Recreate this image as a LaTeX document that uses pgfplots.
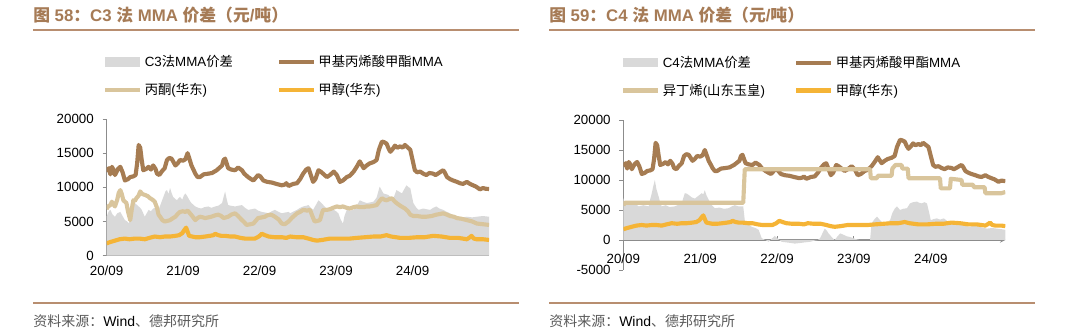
\documentclass[border=0pt]{standalone}
\usepackage{fontspec}
\setmainfont{Liberation Sans}
\newfontfamily\cjk{Noto Sans CJK SC}
\usepackage{pgfplots}
\pgfplotsset{compat=1.18}
\definecolor{mmacol}{RGB}{166,124,82}
\definecolor{acecol}{RGB}{217,197,156}
\definecolor{metcol}{RGB}{245,180,54}
\definecolor{spreadcol}{RGB}{217,217,217}
\definecolor{titlecol}{RGB}{166,123,86}
\definecolor{rulecol}{RGB}{184,142,112}
\definecolor{axiscol}{RGB}{140,140,140}
\definecolor{srccol}{RGB}{90,90,90}

\pgfplotsset{
  arealeg/.style={legend image code/.code={\fill[##1] (0pt,-3.5pt) rectangle (26pt,3.5pt);}},
  mychart/.style={
    scale only axis,
    axis x line=bottom, axis y line=left,
    axis line style={draw=axiscol, line width=0.8pt, -},
    tick align=inside, major tick length=3pt,
    tick style={draw=axiscol, line width=0.7pt},
    ytick style={xshift=-3pt},
    xtick={0,1,2,3,4}, xticklabels={20/09,21/09,22/09,23/09,24/09},
    scaled y ticks=false,
    /pgf/number format/1000 sep={},
    /pgf/number format/assume math mode=true,
    tick label style={font=\fontsize{10}{12}\selectfont, text=black},
    xticklabel style={yshift=-4pt},
    yticklabel style={xshift=-6pt},
    hide obscured x ticks=false, hide obscured y ticks=false,
    legend columns=2,
    legend cell align=left,
    legend style={draw=none, fill=none, font=\fontsize{10}{12}\selectfont, row sep=7pt, inner sep=0pt},
    legend image code/.code={\draw[##1] (0pt,0pt) -- (26pt,0pt);},
    line join=round,
  },
  ser/.style={line width=3.1pt},
}

\begin{document}
\begin{tikzpicture}[x=0.75pt,y=0.75pt]
\path[use as bounding box] (0,0) rectangle (1080,331);

% titles and rules
\node[anchor=west, inner sep=0, text=titlecol, font=\bfseries\fontsize{12.6}{14}\selectfont] at (33,316) {{\cjk 图} 58{\cjk ：}C3 {\cjk 法} MMA {\cjk 价差（元}/{\cjk 吨）}};
\node[anchor=west, inner sep=0, text=titlecol, font=\bfseries\fontsize{12.6}{14}\selectfont] at (549,316) {{\cjk 图} 59{\cjk ：}C4 {\cjk 法} MMA {\cjk 价差（元}/{\cjk 吨）}};
\draw[rulecol, line width=1.1pt] (33,301) -- (519,301);
\draw[rulecol, line width=1.1pt] (549,301) -- (1035,301);
\draw[rulecol, line width=1.1pt] (33,28) -- (519,28);
\draw[rulecol, line width=1.1pt] (549,28) -- (1035,28);
\node[anchor=west, inner sep=0, font=\fontsize{10.5}{12}\selectfont] at (33,10) {\textcolor{srccol}{\cjk 资料来源：}Wind\textcolor{srccol}{\cjk 、德邦研究所}};
\node[anchor=west, inner sep=0, font=\fontsize{10.5}{12}\selectfont] at (549,10) {\textcolor{srccol}{\cjk 资料来源：}Wind\textcolor{srccol}{\cjk 、德邦研究所}};

% ---------------- Left chart ----------------
\begin{axis}[mychart,
  at={(79.9pt,56.5pt)}, anchor=south west,
  width=286.9pt, height=102.5pt,
  xmin=0, xmax=5, ymin=0, ymax=20000,
  ytick={0,5000,10000,15000,20000},
  legend style={at={(-0.009,1.487)}, anchor=north west,
    /tikz/every even column/.append style={column sep=31pt}},
]
\addplot[fill=spreadcol, draw=none, arealeg] coordinates {
(0,0)(0,5700)(0.03,6500)(0.05,6700)(0.08,6000)(0.11,5700)(0.14,6200)(0.18,6400)(0.21,5800)(0.24,5200)(0.27,5000)(0.29,4700)(0.31,5800)(0.33,6700)(0.35,7300)(0.37,7700)(0.40,7400)(0.42,7200)(0.44,7000)(0.46,6700)(0.48,6200)(0.50,5700)(0.53,6300)(0.55,6700)(0.58,6500)(0.61,6900)(0.64,7000)(0.68,6700)(0.70,7300)(0.72,7900)(0.75,8800)(0.77,9400)(0.79,9600)(0.81,9000)(0.83,9900)(0.85,9200)(0.87,8600)(0.90,8300)(0.92,8100)(0.94,8400)(0.96,8600)(0.99,8200)(1.01,8800)(1.03,9100)(1.05,8800)(1.07,8400)(1.09,8000)(1.11,7700)(1.14,7400)(1.16,7200)(1.20,7000)(1.24,6900)(1.28,7100)(1.33,7200)(1.37,7000)(1.42,7200)(1.46,7300)(1.51,7700)(1.53,8600)(1.55,9400)(1.57,8300)(1.59,7400)(1.63,7300)(1.68,7200)(1.72,7300)(1.77,7400)(1.81,7000)(1.85,6700)(1.90,6800)(1.94,6900)(1.98,6600)(2.03,6400)(2.08,6300)(2.12,6200)(2.16,6500)(2.20,6700)(2.25,6400)(2.29,6200)(2.33,6300)(2.38,6400)(2.40,6200)(2.45,6500)(2.49,6700)(2.53,7000)(2.57,7200)(2.61,7300)(2.64,7400)(2.67,7000)(2.70,6700)(2.73,7300)(2.77,8100)(2.79,7900)(2.81,7700)(2.85,7200)(2.88,6900)(2.93,6800)(2.97,6700)(3.00,6500)(3.03,6200)(3.06,5300)(3.09,4700)(3.11,5800)(3.14,6700)(3.18,6600)(3.23,6700)(3.27,7300)(3.31,8100)(3.35,7900)(3.40,7700)(3.45,7800)(3.49,7900)(3.53,8500)(3.57,10100)(3.60,9500)(3.62,9100)(3.65,9000)(3.68,8900)(3.71,8600)(3.75,8400)(3.79,9600)(3.82,9400)(3.86,9100)(3.89,9700)(3.92,10300)(3.95,10000)(3.97,9900)(3.99,8800)(4.01,7700)(4.05,7000)(4.08,6700)(4.11,6800)(4.14,6900)(4.18,6800)(4.23,6700)(4.27,7000)(4.31,7200)(4.35,6900)(4.40,6700)(4.45,6400)(4.49,6200)(4.54,5900)(4.58,5700)(4.64,5600)(4.71,5700)(4.78,5600)(4.84,5700)(4.92,5800)(5.00,5700)(5,0)
} \closedcycle;
\addlegendentry{C3{\cjk 法}MMA{\cjk 价差}}
\addplot[mmacol, ser] coordinates {
(0.00,12300)(0.03,12800)(0.05,11900)(0.07,13000)(0.09,12600)(0.11,11800)(0.15,12700)(0.18,13000)(0.21,12200)(0.24,11000)(0.28,11200)(0.31,11500)(0.35,11600)(0.38,11800)(0.40,13500)(0.42,16200)(0.44,15800)(0.46,14000)(0.48,12500)(0.52,12700)(0.55,13000)(0.58,12600)(0.61,13200)(0.64,12700)(0.66,12000)(0.69,11800)(0.72,12300)(0.76,12800)(0.79,14000)(0.82,14300)(0.85,14200)(0.88,13600)(0.90,13200)(0.93,13500)(0.96,14000)(1.00,13900)(1.03,14100)(1.06,15000)(1.08,14300)(1.11,13200)(1.14,12500)(1.16,12000)(1.19,11500)(1.22,11500)(1.27,11900)(1.33,12000)(1.38,12100)(1.44,12500)(1.48,12900)(1.51,13200)(1.53,14000)(1.55,14200)(1.57,13500)(1.59,12800)(1.63,12600)(1.68,12500)(1.72,12900)(1.77,12500)(1.80,12000)(1.85,11500)(1.89,11200)(1.92,11000)(1.95,11400)(1.98,11800)(2.01,11600)(2.05,11000)(2.10,10800)(2.16,10700)(2.22,10500)(2.29,10300)(2.33,10400)(2.35,10600)(2.38,10200)(2.40,10300)(2.44,10500)(2.49,10600)(2.53,11200)(2.57,12000)(2.61,12600)(2.64,12800)(2.67,11800)(2.70,10800)(2.73,11200)(2.77,12500)(2.80,12300)(2.83,12000)(2.88,11500)(2.92,11800)(2.97,12300)(3.01,11800)(3.05,10800)(3.09,11000)(3.14,11500)(3.18,11700)(3.23,12300)(3.27,13000)(3.31,13800)(3.34,13200)(3.36,12800)(3.40,13200)(3.44,13500)(3.49,13700)(3.53,14000)(3.56,15500)(3.60,16700)(3.63,16600)(3.66,16400)(3.69,15600)(3.71,15200)(3.74,15600)(3.77,16100)(3.80,15800)(3.84,16000)(3.87,15800)(3.90,16200)(3.93,15900)(3.97,15500)(4.00,14000)(4.03,12500)(4.06,12200)(4.10,12300)(4.14,12000)(4.18,11800)(4.22,12100)(4.27,12000)(4.30,11800)(4.33,12000)(4.37,12300)(4.40,12500)(4.42,12200)(4.45,11500)(4.49,11200)(4.53,11000)(4.58,10800)(4.62,10600)(4.66,10500)(4.71,10800)(4.75,10500)(4.79,10300)(4.83,10100)(4.88,9700)(4.92,9900)(4.95,9800)(5.00,9750)
};
\addlegendentry{{\cjk 甲基丙烯酸甲酯}MMA}
\addplot[acecol, ser] coordinates {
(0.00,6800)(0.02,7200)(0.05,7400)(0.07,7900)(0.09,7500)(0.11,7200)(0.14,8200)(0.16,9200)(0.18,9600)(0.20,9000)(0.22,8100)(0.24,7900)(0.26,7700)(0.28,6500)(0.31,5200)(0.33,6800)(0.35,8100)(0.37,8000)(0.39,8400)(0.42,8800)(0.44,9400)(0.47,9000)(0.50,8900)(0.54,8700)(0.57,8400)(0.60,8200)(0.63,7900)(0.66,7000)(0.68,6000)(0.70,5700)(0.73,5200)(0.76,5000)(0.80,5100)(0.83,5200)(0.87,5500)(0.90,5700)(0.93,6100)(0.96,6400)(1.00,6500)(1.03,6400)(1.06,6600)(1.09,6200)(1.12,5800)(1.16,5200)(1.19,5500)(1.22,5700)(1.26,5600)(1.29,5500)(1.33,5600)(1.37,5700)(1.42,5900)(1.46,6000)(1.50,5800)(1.53,5500)(1.56,5600)(1.59,5700)(1.63,6000)(1.68,6200)(1.72,5800)(1.77,5200)(1.80,4900)(1.83,4500)(1.88,4600)(1.92,4700)(1.95,5100)(1.98,5500)(2.03,5600)(2.07,5700)(2.10,5900)(2.14,6000)(2.17,5900)(2.20,5700)(2.25,5300)(2.29,4700)(2.33,4600)(2.38,5000)(2.42,5500)(2.45,5800)(2.49,6200)(2.53,6400)(2.57,6700)(2.62,6600)(2.66,6700)(2.69,5800)(2.72,5000)(2.76,5100)(2.79,5200)(2.81,6000)(2.83,6700)(2.88,6700)(2.92,6800)(2.96,7000)(3.01,7200)(3.05,7100)(3.09,7200)(3.14,7000)(3.18,6900)(3.23,7100)(3.27,7200)(3.31,7100)(3.36,7100)(3.40,7200)(3.44,7200)(3.49,7300)(3.53,7400)(3.57,8000)(3.60,8400)(3.63,8200)(3.66,8100)(3.70,8300)(3.73,8400)(3.76,8000)(3.79,7700)(3.84,7300)(3.90,6900)(3.94,6500)(3.97,6000)(4.01,5800)(4.06,5800)(4.12,5700)(4.18,5700)(4.25,5800)(4.31,6000)(4.36,6100)(4.40,6200)(4.45,6000)(4.49,5800)(4.54,5700)(4.58,5500)(4.64,5400)(4.71,5200)(4.78,5000)(4.84,4700)(4.92,4600)(5.00,4500)
};
\addlegendentry{{\cjk 丙酮}({\cjk 华东})}
\addplot[metcol, ser] coordinates {
(0.00,1800)(0.05,2000)(0.11,2200)(0.17,2400)(0.24,2500)(0.30,2400)(0.37,2500)(0.43,2500)(0.50,2400)(0.56,2600)(0.63,2800)(0.70,2700)(0.76,2800)(0.83,2800)(0.90,2900)(0.95,3000)(0.99,3300)(1.02,3800)(1.04,4100)(1.06,3500)(1.08,2900)(1.12,2800)(1.16,2700)(1.22,2700)(1.29,2800)(1.35,2900)(1.40,3000)(1.42,3200)(1.46,3000)(1.50,2900)(1.55,2900)(1.62,2800)(1.68,2800)(1.75,2600)(1.81,2500)(1.88,2500)(1.94,2500)(1.99,2800)(2.03,3200)(2.07,3000)(2.12,2800)(2.20,2700)(2.29,2700)(2.35,2600)(2.40,2800)(2.48,2700)(2.57,2700)(2.64,2500)(2.70,2300)(2.75,2200)(2.82,2300)(2.92,2500)(3.00,2500)(3.10,2500)(3.18,2500)(3.27,2600)(3.38,2700)(3.49,2800)(3.58,2800)(3.66,3000)(3.72,2800)(3.84,2600)(3.95,2600)(4.06,2700)(4.16,2700)(4.27,2900)(4.38,2800)(4.49,2600)(4.60,2600)(4.71,2400)(4.75,2700)(4.77,2900)(4.80,2500)(4.84,2400)(4.92,2400)(5.00,2300)
};
\addlegendentry{{\cjk 甲醇}({\cjk 华东})}
\end{axis}

% ---------------- Right chart ----------------
\begin{axis}[mychart,
  axis x line=middle,
  tick align=inside,
  at={(467.5pt,45.75pt)}, anchor=south west,
  width=286.5pt, height=112.5pt,
  xmin=0, xmax=4.97, ymin=-5000, ymax=20000,
  ytick={-5000,0,5000,10000,15000,20000},
  xticklabel style={yshift=-3pt},
  legend style={at={(-0.006,1.446)}, anchor=north west,
    /tikz/every even column/.append style={column sep=20pt}},
]
\addplot[fill=spreadcol, draw=none, arealeg] coordinates {
(0,0)(0,7000)(0.02,6100)(0.08,6300)(0.15,6100)(0.20,5600)(0.26,5800)(0.33,5600)(0.35,6800)(0.37,7800)(0.39,9000)(0.41,10000)(0.43,8500)(0.46,7200)(0.48,6200)(0.50,5600)(0.55,5800)(0.60,5500)(0.67,5600)(0.72,5900)(0.76,6100)(0.78,7000)(0.80,7800)(0.83,7700)(0.85,7500)(0.89,7100)(0.93,6900)(0.97,7300)(1.02,7800)(1.04,7600)(1.06,8300)(1.08,7500)(1.11,6700)(1.15,5800)(1.19,5300)(1.25,5400)(1.31,5200)(1.37,5300)(1.41,5600)(1.45,5800)(1.50,5600)(1.56,5600)(1.58,3300)(1.62,2700)(1.67,2200)(1.72,2000)(1.76,1700)(1.78,1000)(1.80,300)(1.85,0)(1.89,-300)(1.93,200)(1.97,700)(2.01,200)(2.06,-300)(2.12,-400)(2.18,-500)(2.23,-600)(2.30,-500)(2.36,-400)(2.43,-300)(2.49,-100)(2.53,0)(2.56,300)(2.59,1100)(2.62,1900)(2.65,1500)(2.67,1100)(2.71,500)(2.75,0)(2.78,500)(2.82,1100)(2.86,900)(2.91,600)(2.95,500)(2.99,300)(3.04,100)(3.08,0)(3.15,0)(3.21,0)(3.23,2800)(3.27,3500)(3.30,3900)(3.34,3300)(3.38,2800)(3.43,3000)(3.47,3300)(3.50,4500)(3.53,5200)(3.56,5600)(3.60,5000)(3.64,5200)(3.69,5300)(3.73,6100)(3.77,6300)(3.82,6400)(3.85,6200)(3.88,6100)(3.92,6300)(3.95,6100)(3.98,4500)(4.00,3300)(4.04,3500)(4.08,3600)(4.12,3400)(4.17,3600)(4.21,3200)(4.25,2800)(4.30,2600)(4.34,2500)(4.38,2600)(4.43,2500)(4.47,2300)(4.51,2200)(4.55,2400)(4.60,2500)(4.66,2100)(4.73,1900)(4.80,2000)(4.86,1900)(4.92,1800)(4.97,1700)(4.97,0)
} \closedcycle;
\addlegendentry{C4{\cjk 法}MMA{\cjk 价差}}
\addplot[mmacol, ser] coordinates {
(0.00,12300)(0.03,12800)(0.05,11900)(0.07,13000)(0.09,12600)(0.11,11800)(0.15,12700)(0.18,13000)(0.21,12200)(0.24,11000)(0.28,11200)(0.31,11500)(0.35,11600)(0.38,11800)(0.40,13500)(0.42,16200)(0.44,15800)(0.46,14000)(0.48,12500)(0.52,12700)(0.55,13000)(0.58,12600)(0.61,13200)(0.64,12700)(0.66,12000)(0.69,11800)(0.72,12300)(0.76,12800)(0.79,14000)(0.82,14300)(0.85,14200)(0.88,13600)(0.90,13200)(0.93,13500)(0.96,14000)(1.00,13900)(1.03,14100)(1.06,15000)(1.08,14300)(1.11,13200)(1.14,12500)(1.16,12000)(1.19,11500)(1.22,11500)(1.27,11900)(1.33,12000)(1.38,12100)(1.44,12500)(1.48,12900)(1.51,13200)(1.53,14000)(1.55,14200)(1.57,13500)(1.59,12800)(1.63,12600)(1.68,12500)(1.72,12900)(1.77,12500)(1.80,12000)(1.85,11500)(1.89,11200)(1.92,11000)(1.95,11400)(1.98,11800)(2.01,11600)(2.05,11000)(2.10,10800)(2.16,10700)(2.22,10500)(2.29,10300)(2.33,10400)(2.35,10600)(2.38,10200)(2.40,10300)(2.44,10500)(2.49,10600)(2.53,11200)(2.57,12000)(2.61,12600)(2.64,12800)(2.67,11800)(2.70,10800)(2.73,11200)(2.77,12500)(2.80,12300)(2.83,12000)(2.88,11500)(2.92,11800)(2.97,12300)(3.01,11800)(3.05,10800)(3.09,11000)(3.14,11500)(3.18,11700)(3.23,12300)(3.27,13000)(3.31,13800)(3.34,13200)(3.36,12800)(3.40,13200)(3.44,13500)(3.49,13700)(3.53,14000)(3.56,15500)(3.60,16700)(3.63,16600)(3.66,16400)(3.69,15600)(3.71,15200)(3.74,15600)(3.77,16100)(3.80,15800)(3.84,16000)(3.87,15800)(3.90,16200)(3.93,15900)(3.97,15500)(4.00,14000)(4.03,12500)(4.06,12200)(4.10,12300)(4.14,12000)(4.18,11800)(4.22,12100)(4.27,12000)(4.30,11800)(4.33,12000)(4.37,12300)(4.40,12500)(4.42,12200)(4.45,11500)(4.49,11200)(4.53,11000)(4.58,10800)(4.62,10600)(4.66,10500)(4.71,10800)(4.75,10500)(4.79,10300)(4.83,10100)(4.88,9700)(4.92,9900)(4.97,9800)
};
\addlegendentry{{\cjk 甲基丙烯酸甲酯}MMA}
\addplot[acecol, ser] coordinates {
(0,5800)(0.02,6200)(1.56,6200)(1.58,11800)(3.21,11800)(3.22,10300)(3.30,10300)(3.31,10700)(3.49,10700)(3.50,11900)(3.54,12500)(3.62,12500)(3.63,11900)(3.70,11900)(3.71,10300)(4.12,10300)(4.13,8600)(4.25,8600)(4.26,10200)(4.40,10000)(4.41,9200)(4.55,9200)(4.56,8800)(4.70,8800)(4.71,7800)(4.92,7800)(4.97,8000)
};
\addlegendentry{{\cjk 异丁烯}({\cjk 山东玉皇})}
\addplot[metcol, ser] coordinates {
(0.00,1800)(0.05,2000)(0.11,2200)(0.17,2400)(0.24,2500)(0.30,2400)(0.37,2500)(0.43,2500)(0.50,2400)(0.56,2600)(0.63,2800)(0.70,2700)(0.76,2800)(0.83,2800)(0.90,2900)(0.95,3000)(0.99,3300)(1.02,3800)(1.04,4100)(1.06,3500)(1.08,2900)(1.12,2800)(1.16,2700)(1.22,2700)(1.29,2800)(1.35,2900)(1.40,3000)(1.42,3200)(1.46,3000)(1.50,2900)(1.55,2900)(1.62,2800)(1.68,2800)(1.75,2600)(1.81,2500)(1.88,2500)(1.94,2500)(1.99,2800)(2.03,3200)(2.07,3000)(2.12,2800)(2.20,2700)(2.29,2700)(2.35,2600)(2.40,2800)(2.48,2700)(2.57,2700)(2.64,2500)(2.70,2300)(2.75,2200)(2.82,2300)(2.92,2500)(3.00,2500)(3.10,2500)(3.18,2500)(3.27,2600)(3.38,2700)(3.49,2800)(3.58,2800)(3.66,3000)(3.72,2800)(3.84,2600)(3.95,2600)(4.06,2700)(4.16,2700)(4.27,2900)(4.38,2800)(4.49,2600)(4.60,2600)(4.71,2400)(4.75,2700)(4.77,2900)(4.80,2500)(4.84,2400)(4.92,2400)(4.97,2300)
};
\addlegendentry{{\cjk 甲醇}({\cjk 华东})}
\end{axis}
\end{tikzpicture}
\end{document}
